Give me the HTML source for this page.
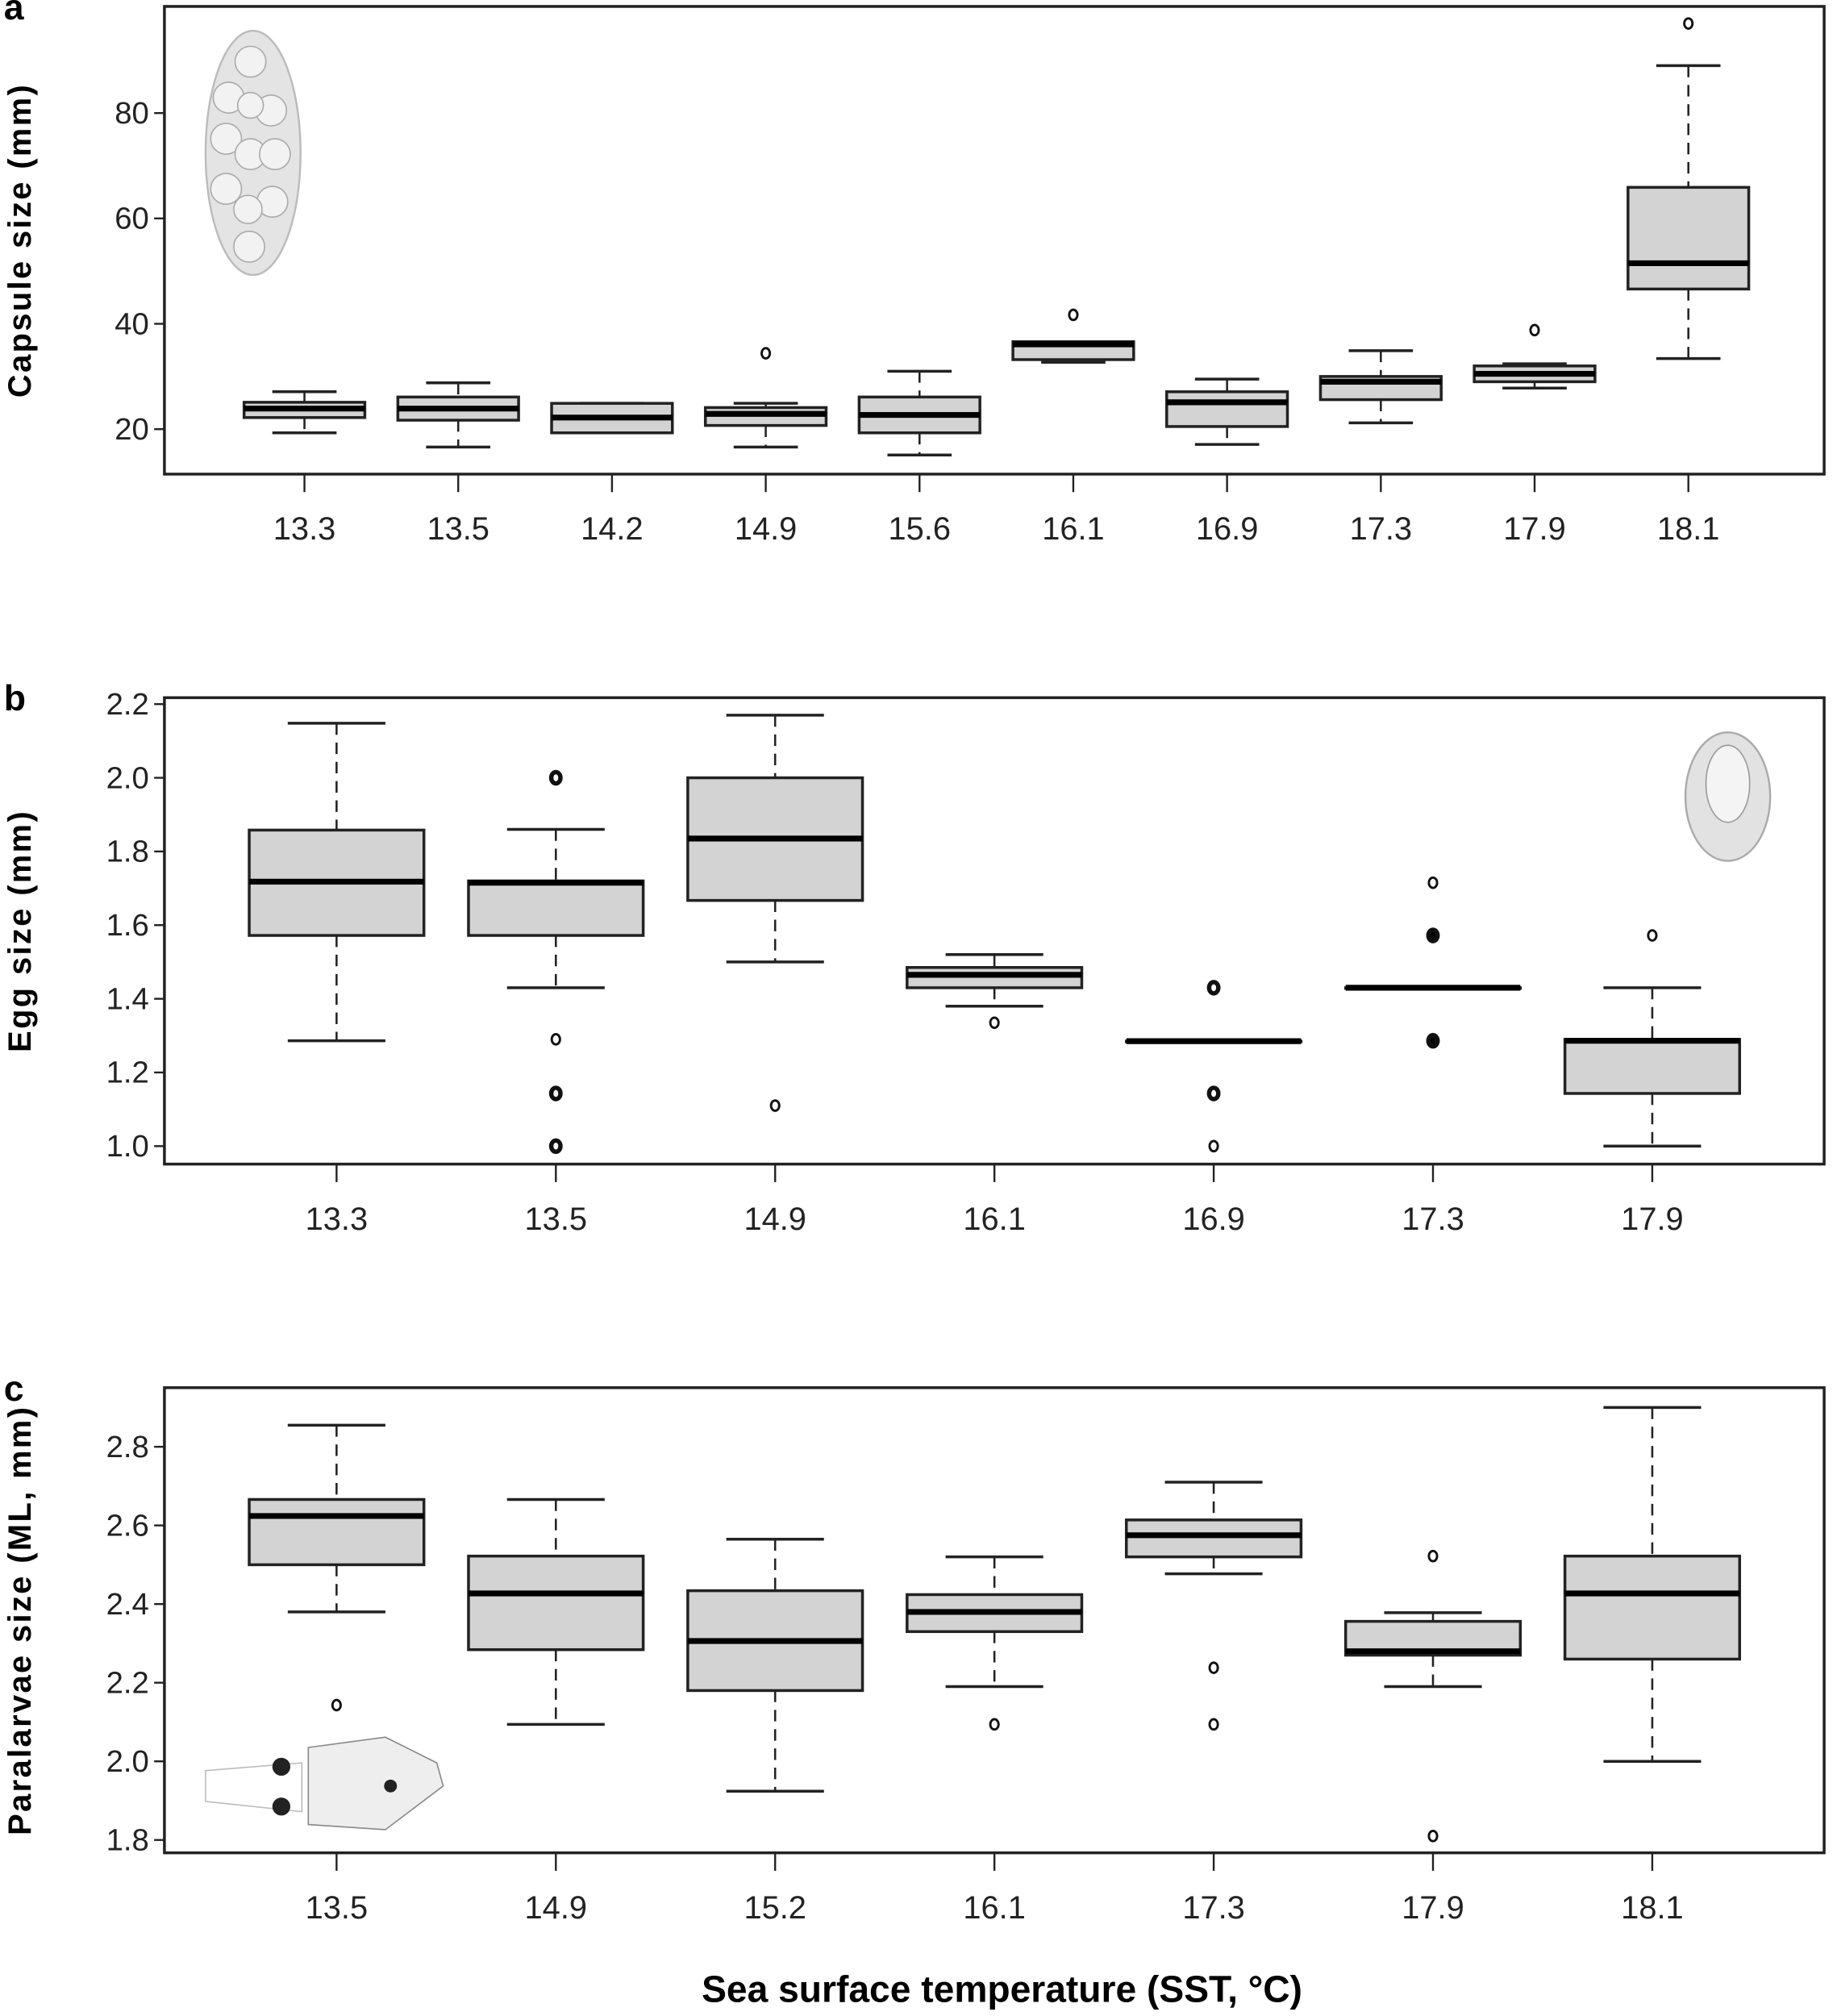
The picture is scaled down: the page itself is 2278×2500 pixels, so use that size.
<!DOCTYPE html>
<html><head><meta charset="utf-8"><style>
html,body{margin:0;padding:0;background:#fff;}
svg{display:block;}
text{font-family:"Liberation Sans","DejaVu Sans",sans-serif;}
</style></head><body>
<svg id="fig" width="2278" height="2500" viewBox="0 0 1430 1569" preserveAspectRatio="none" xmlns="http://www.w3.org/2000/svg">
<rect width="1430" height="1569" fill="#fff"/>
<g>
<ellipse cx="197" cy="119" rx="37" ry="95" fill="#e4e4e4" stroke="#bbb" stroke-width="1.5"/>
<circle cx="195" cy="48" r="12" fill="#f2f2f2" stroke="#aaa"/><circle cx="178" cy="76" r="12" fill="#f2f2f2" stroke="#aaa"/><circle cx="211" cy="86" r="12" fill="#f2f2f2" stroke="#aaa"/><circle cx="195" cy="82" r="10" fill="#f2f2f2" stroke="#aaa"/><circle cx="176" cy="108" r="12" fill="#f2f2f2" stroke="#aaa"/><circle cx="195" cy="120" r="12" fill="#f2f2f2" stroke="#aaa"/><circle cx="214" cy="120" r="12" fill="#f2f2f2" stroke="#aaa"/><circle cx="176" cy="147" r="12" fill="#f2f2f2" stroke="#aaa"/><circle cx="212" cy="157" r="12" fill="#f2f2f2" stroke="#aaa"/><circle cx="193" cy="163" r="11" fill="#f2f2f2" stroke="#aaa"/><circle cx="194" cy="192" r="12" fill="#f2f2f2" stroke="#aaa"/>
</g>
<g>
<ellipse cx="1345" cy="620" rx="33" ry="50" fill="#e2e2e2" stroke="#aaa" stroke-width="1.5"/>
<ellipse cx="1345" cy="610" rx="17" ry="30" fill="#f4f4f4" stroke="#999"/>
</g>
<g>
<path d="M160 1378 L235 1372 L235 1410 L160 1402 Z" fill="none" stroke="#bbb"/>
<path d="M240 1360 L300 1352 L340 1372 L345 1390 L300 1424 L240 1420 Z" fill="#eee" stroke="#888"/>
<circle cx="219" cy="1375" r="7" fill="#222"/><circle cx="219" cy="1406" r="7" fill="#222"/><circle cx="304" cy="1390" r="5" fill="#222"/>
</g>
<g id="charts"></g>
</svg>
<script>
// Panel a
const catsA = ["13.3","13.5","14.2","14.9","15.6","16.1","16.9","17.3","17.9","18.1"];
const lowA  = [19.3,16.6,19.3,16.6,15.1,32.7,17.1,21.2,27.8,33.4];
const q1A   = [22.2,21.7,19.3,20.7,19.3,33.2,20.5,25.6,29.0,46.6];
const medA  = [23.9,23.9,22.2,22.9,22.7,36.1,25.1,29.0,30.5,51.5];
const q3A   = [25.1,26.1,24.9,24.1,26.1,36.6,27.1,30.0,32.0,65.9];
const highA = [27.1,28.8,24.9,24.9,31.0,36.6,29.5,34.9,32.4,89.0];
const outA  = [[],[],[],[34.4],[],[41.7],[],[],[38.8],[97]];
const boldA = [[],[],[],[0],[],[0],[],[],[0],[0]];
const ticksA = [20,40,60,80];
// Panel b
const catsB = ["13.3","13.5","14.9","16.1","16.9","17.3","17.9"];
const lowB  = [1.286,1.43,1.50,1.38,1.285,1.43,1.0];
const q1B   = [1.572,1.572,1.667,1.43,1.285,1.43,1.143];
const medB  = [1.718,1.715,1.835,1.465,1.285,1.43,1.286];
const q3B   = [1.858,1.72,2.0,1.485,1.285,1.43,1.29];
const highB = [2.148,1.86,2.17,1.52,1.285,1.43,1.43];
const outB  = [[],[2.0,1.29,1.143,1.0],[1.11],[1.335],[1.43,1.143,1.0],[1.715,1.572,1.286],[1.572]];
const boldB = [[],[1,0,1,1],[0],[0],[1,1,0],[0,2,2],[0]];
const ticksB = [1.0,1.2,1.4,1.6,1.8,2.0,2.2];
// Panel c
const catsC = ["13.5","14.9","15.2","16.1","17.3","17.9","18.1"];
const lowC  = [2.38,2.094,1.924,2.19,2.477,2.19,2.0];
const q1C   = [2.5,2.284,2.18,2.33,2.52,2.27,2.26];
const medC  = [2.624,2.427,2.306,2.38,2.575,2.28,2.427];
const q3C   = [2.666,2.522,2.434,2.424,2.614,2.356,2.522];
const highC = [2.855,2.666,2.565,2.52,2.71,2.378,2.9];
const outC  = [[2.143],[],[],[2.094],[2.238,2.094],[2.522,1.81],[]];
const boldC = [[0],[],[],[0],[0,0],[0,0],[]];
const ticksC = [1.8,2.0,2.2,2.4,2.6,2.8];

const NS="http://www.w3.org/2000/svg";
const root=document.getElementById('charts');
function mk(tag,attrs,parent){const e=document.createElementNS(NS,tag);for(const k in attrs)e.setAttribute(k,attrs[k]);(parent||root).appendChild(e);return e;}

function panel(p){
  const g=mk('g',{});
  
  
  const y=v=>p.y0+(v-p.v0)*(p.y1-p.y0)/(p.v1-p.v0);
  const x=i=>p.xFirst+i*p.xStep;
  const frame=mk('rect',{x:128,y:p.top,width:1292,height:p.bottom-p.top,fill:'none',stroke:'#222','stroke-width':2.2},g);
  
  
  const lt=mk('text',{x:3,y:p.top+10,'font-size':28,'font-weight':'bold'},g);lt.textContent=p.id;
  
  
  p.ticks.forEach(t=>{
    mk('line',{x1:120,x2:128,y1:y(t),y2:y(t),stroke:'#222','stroke-width':1.5},g);
    const tx=mk('text',{x:116,y:y(t)+8,'font-size':24,'text-anchor':'end',fill:'#222'},g);
    tx.textContent=p.fmt(t);
    
    
  });
  const yt=mk('text',{x:0,y:0,'font-size':25,'font-weight':'bold','letter-spacing':1.5,'text-anchor':'middle',transform:`translate(24,${(p.top+p.bottom)/2}) rotate(-90)`},g);
  yt.textContent=p.ytitle;
  
  
  p.cats.forEach((c,i)=>{
    const cx=x(i);
    mk('line',{x1:cx,x2:cx,y1:p.bottom,y2:p.bottom+14,stroke:'#222','stroke-width':1.5},g);
    const tx=mk('text',{x:cx,y:p.bottom+51,'font-size':25,'text-anchor':'middle',fill:'#222'},g);
    tx.textContent=c;
    
    
    const bg=mk('g',{},g);
    
    
    const hw=p.hw, cw=p.cw;
    mk('line',{x1:cx,x2:cx,y1:y(p.high[i]),y2:y(p.q3[i]),stroke:'#222','stroke-width':1.6,'stroke-dasharray':'9,6'},bg);
    mk('line',{x1:cx,x2:cx,y1:y(p.q1[i]),y2:y(p.low[i]),stroke:'#222','stroke-width':1.6,'stroke-dasharray':'9,6'},bg);
    mk('line',{x1:cx-cw,x2:cx+cw,y1:y(p.high[i]),y2:y(p.high[i]),stroke:'#222','stroke-width':2.2},bg);
    mk('line',{x1:cx-cw,x2:cx+cw,y1:y(p.low[i]),y2:y(p.low[i]),stroke:'#222','stroke-width':2.2},bg);
    const yt3=y(p.q3[i]), yt1=y(p.q1[i]);
    mk('rect',{x:cx-hw,y:Math.min(yt3,yt1),width:2*hw,height:Math.max(Math.abs(yt1-yt3),0.5),fill:'#d3d3d3',stroke:'#222','stroke-width':2.2},bg);
    mk('line',{x1:cx-hw,x2:cx+hw,y1:y(p.med[i]),y2:y(p.med[i]),stroke:'#000','stroke-width':4.5},bg);
    p.out[i].forEach((v,j)=>{
      const b=p.bold[i][j]||0;
      const o=mk('ellipse',{cx:cx,cy:y(v),rx:b?3.6:3.2,ry:b?4.4:4,fill:b==2?'#000':'none',stroke:'#111','stroke-width':b?3.4:1.8},bg);
      
      
    });
  });
}
panel({id:'a',top:5,bottom:369,y0:334,y1:88,v0:20,v1:80,xFirst:237,xStep:119.7,hw:47,cw:25,
  cats:catsA,low:lowA,q1:q1A,med:medA,q3:q3A,high:highA,out:outA,bold:boldA,ticks:ticksA,fmt:t=>String(t),ytitle:'Capsule size (mm)'});
panel({id:'b',top:543,bottom:906,y0:892,y1:548,v0:1.0,v1:2.2,xFirst:262,xStep:170.7,hw:68,cw:38,
  cats:catsB,low:lowB,q1:q1B,med:medB,q3:q3B,high:highB,out:outB,bold:boldB,ticks:ticksB,fmt:t=>t.toFixed(1),ytitle:'Egg size (mm)'});
panel({id:'c',top:1080,bottom:1442,y0:1432,y1:1126,v0:1.8,v1:2.8,xFirst:262,xStep:170.7,hw:68,cw:38,
  cats:catsC,low:lowC,q1:q1C,med:medC,q3:q3C,high:highC,out:outC,bold:boldC,ticks:ticksC,fmt:t=>t.toFixed(1),ytitle:'Paralarvae size (ML, mm)'});
const xt=mk('text',{x:780,y:1558,'font-size':29,'font-weight':'bold','text-anchor':'middle'});
xt.textContent='Sea surface temperature (SST, °C)';


</script>
</body></html>
